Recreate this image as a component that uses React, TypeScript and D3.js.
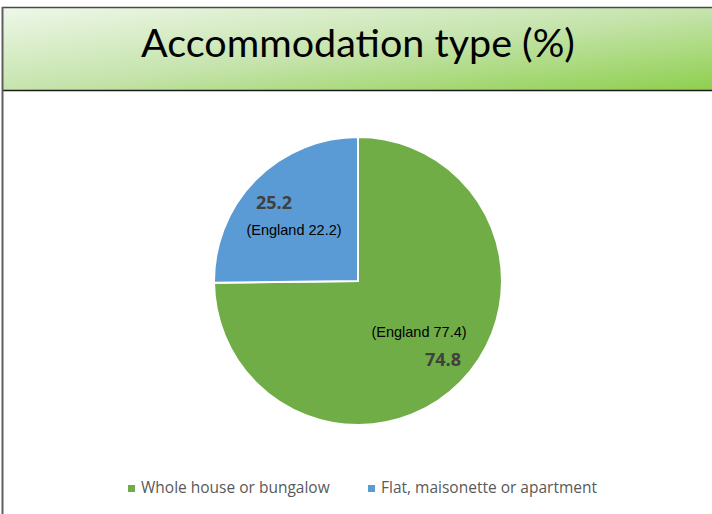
import React from "react";
import * as d3 from "d3";

const categories = ["Whole house or bungalow", "Flat, maisonette or apartment"];
const values = [74.8, 25.2];
const englandValues = [77.4, 22.2];
const colors = ["#70ad47", "#5b9bd5"];
const title = "Accommodation type (%)";

export default function App() {
  const W = 712, H = 514;
  const cx = 358, cy = 281, r = 144;
  const data = categories.map((c, i) => ({ c, v: values[i], e: englandValues[i], color: colors[i] }));
  const pie = d3.pie<any>().value((d) => d.v).sort(null);
  const arcs = pie(data);
  const arc = d3.arc<any>().innerRadius(0).outerRadius(r);

  const labelPos = [
    { v: [85, 80], e: [61, 52] },
    { v: [-84, -77], e: [-64, -50] },
  ];

  return (
    <svg width={W} height={H} style={{ position: "absolute", left: 0, top: 0 }}>
      <defs>
        <linearGradient id="hdr" x1="0" y1="0" x2="1" y2="1" gradientUnits="objectBoundingBox">
          <stop offset="0" stopColor="#eef7e8" />
          <stop offset="0.5" stopColor="#c6e4ad" />
          <stop offset="1" stopColor="#8ecf4e" />
        </linearGradient>
      </defs>
      <rect x={0} y={0} width={W} height={H} fill="#ffffff" />
      <rect x={3} y={8} width={W} height={82} fill="url(#hdr)" />
      <line x1={2} y1={7.5} x2={W} y2={7.5} stroke="#4a4a4a" strokeWidth={1.5} />
      <line x1={3} y1={90.5} x2={W} y2={90.5} stroke="#1a1a1a" strokeWidth={1.5} />
      <line x1={2.5} y1={7} x2={2.5} y2={H} stroke="#5e5e5e" strokeWidth={2} />
      <text x={358} y={47} textAnchor="middle" dominantBaseline="middle"
        fontFamily="Lato, 'Open Sans', sans-serif" fontSize={39.5} fill="#000">{title}</text>

      <g transform={`translate(${cx},${cy})`}>
        {arcs.map((a, i) => (
          <path key={i} d={arc(a) as string} fill={a.data.color} stroke="#ffffff" strokeWidth={2} />
        ))}
        {arcs.map((a, i) => (
          <g key={"l" + i}>
            <text x={labelPos[i].v[0]} y={labelPos[i].v[1]} textAnchor="middle" dominantBaseline="middle"
              fontFamily="'Open Sans', 'Noto Sans', sans-serif" fontWeight="bold" fontSize={18} fill="#404040">
              {a.data.v.toFixed(1)}
            </text>
            <text x={labelPos[i].e[0]} y={labelPos[i].e[1]} textAnchor="middle" dominantBaseline="middle"
              fontFamily="'Liberation Sans', Arial, sans-serif" fontSize={14.5} fill="#000">
              {`(England ${a.data.e.toFixed(1)})`}
            </text>
          </g>
        ))}
      </g>

      {data.map((d, i) => {
        const x0 = i === 0 ? 128 : 368;
        return (
          <g key={"lg" + i}>
            <rect x={x0} y={485} width={7} height={7} fill={d.color} />
            <text x={x0 + 13} y={489} dominantBaseline="middle"
              fontFamily="'Open Sans', 'Noto Sans', sans-serif" fontSize={15.5} fill="#595959">{d.c}</text>
          </g>
        );
      })}
    </svg>
  );
}
